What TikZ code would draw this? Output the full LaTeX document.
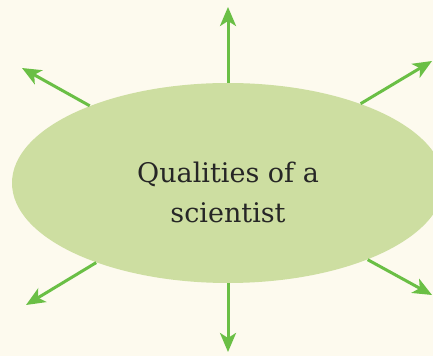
\documentclass[tikz,border=0pt]{standalone}
\usepackage{fontspec}
\setmainfont{DejaVu Serif}
\usetikzlibrary{shapes.geometric,arrows.meta}
\definecolor{paper}{HTML}{FDFAEE}
\definecolor{blob}{HTML}{CDDEA1}
\definecolor{leaf}{HTML}{6ABF45}
\begin{document}
\begin{tikzpicture}[x=1pt, y=1pt, thick, main node/.style={ellipse, fill=blob, inner sep=0pt, minimum width=432pt, minimum height=200pt}, title node/.style={align=center, font=\fontsize{27}{40}\selectfont, text=black!85}, out arrow/.style={draw=leaf, line width=3pt, -{Stealth[length=19pt, width=16pt, inset=5pt]}}]

            \path[use as bounding box, fill=paper] (0,0) rectangle (433,356);

            \node[main node] at (228, 173) (q) {};
            \node[title node] at (228, 164) (qtext) {Qualities of a\\scientist};
            \coordinate (n) at (228, 349);
            \coordinate (s) at (228, 4);
            \coordinate (nw) at (22, 288);
            \coordinate (ne) at (432, 295);
            \coordinate (sw) at (26, 51);
            \coordinate (se) at (432, 61);

            \path (q) edge[out arrow] (n);
            \path (q) edge[out arrow] (s);
            \path (q) edge[out arrow] (nw);
            \path (q) edge[out arrow] (ne);
            \path (q) edge[out arrow] (sw);
            \path (q) edge[out arrow] (se);
        \end{tikzpicture}
\end{document}
